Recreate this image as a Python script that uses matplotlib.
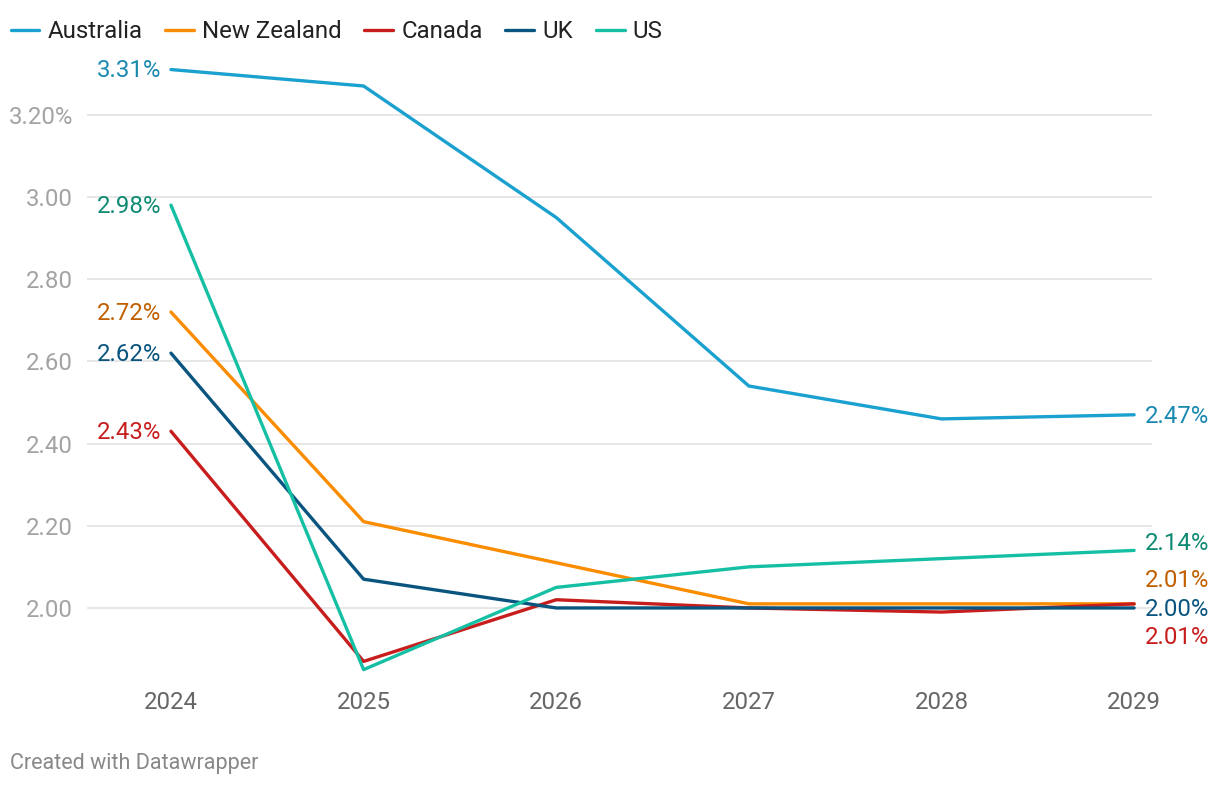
import matplotlib.pyplot as plt
import numpy as np

plt.rcParams['font.family'] = ['Roboto', 'DejaVu Sans']

years = [2024, 2025, 2026, 2027, 2028, 2029]
australia = [3.31, 3.27, 2.95, 2.54, 2.46, 2.47]
new_zealand = [2.72, 2.21, 2.11, 2.01, 2.01, 2.01]
canada = [2.43, 1.87, 2.02, 2.00, 1.99, 2.01]
uk = [2.62, 2.07, 2.00, 2.00, 2.00, 2.00]
us = [2.98, 1.85, 2.05, 2.10, 2.12, 2.14]

names = ['Australia', 'New Zealand', 'Canada', 'UK', 'US']
series = [australia, new_zealand, canada, uk, us]
line_colors = ['#1aa1d0', '#fa8c00', '#c71e1d', '#09557f', '#15bfa4']
label_colors = ['#1a89b0', '#c06000', '#c71e1d', '#09557f', '#0f8a73']
# vertical nudges (points) for end labels so they don't overlap
end_offsets = [-1, 17, -24, -1, 5]

fig = plt.figure(figsize=(12.2, 7.86), dpi=100)
ax = fig.add_axes([0.0713, 0.1349, 0.8730, 0.7888])

for vals, name, lc, tc, eo in zip(series, names, line_colors, label_colors, end_offsets):
    ax.plot(years, vals, color=lc, lw=2.4, label=name, solid_capstyle='round', zorder=3)
    ax.annotate(f'{vals[0]:.2f}%', (years[0], vals[0]), xytext=(-7, -1), textcoords='offset points',
                ha='right', va='center', color=tc, fontsize=17.3)
    ax.annotate(f'{vals[-1]:.2f}%', (years[-1], vals[-1]), xytext=(8, eo), textcoords='offset points',
                ha='left', va='center', color=tc, fontsize=17.3)

ax.set_xlim(2023.564, 2029.093)
ax.set_ylim(1.8248, 3.3333)
ticks = [2.0, 2.2, 2.4, 2.6, 2.8, 3.0, 3.2]
ax.set_yticks(ticks)
ax.set_yticklabels([f'{t:.2f}%' if t == 3.2 else f'{t:.2f}' for t in ticks])
ax.set_xticks(years)
ax.set_xticklabels([str(y) for y in years])
ax.grid(axis='y', color='#e3e3e3', lw=1.2, zorder=0)
for s in ax.spines.values():
    s.set_visible(False)
ax.tick_params(axis='y', length=0, pad=10, labelsize=17.3, labelcolor='#a3a3a3')
ax.tick_params(axis='x', length=0, pad=8, labelsize=17.3, labelcolor='#666666')

fig.legend(loc='upper left', bbox_to_anchor=(-0.009, 1.002), ncol=5, frameon=False,
           fontsize=17.3, handlelength=1.2, handletextpad=0.33, columnspacing=0.95,
           labelcolor='#222222', borderaxespad=0.5)

fig.text(0.008, 0.022, 'Created with Datawrapper', color='#888888', fontsize=15.5)

fig.savefig('out.png', dpi=100)
